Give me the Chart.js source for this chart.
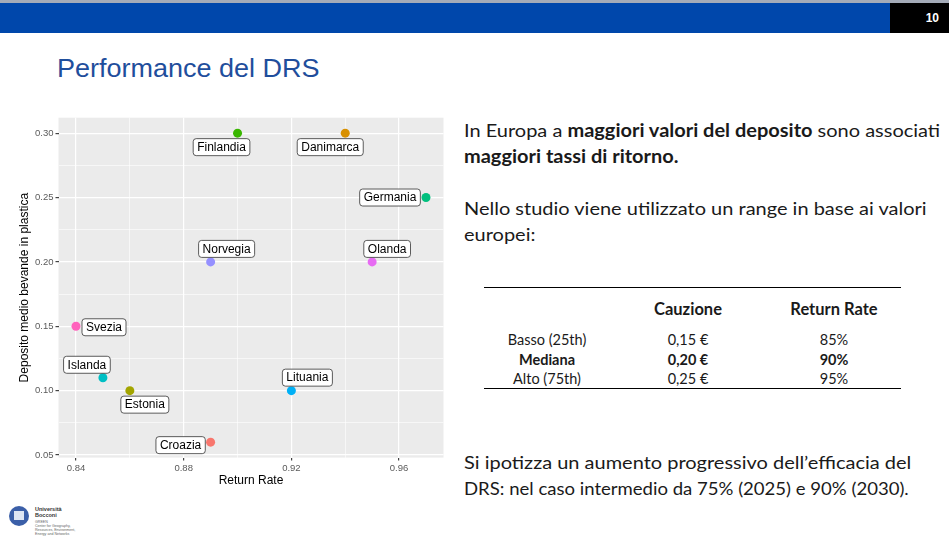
<!DOCTYPE html>
<html>
<head>
<meta charset="utf-8">
<script src="https://cdn.jsdelivr.net/npm/chart.js@4"></script>
<style>
  body { margin: 0; width: 949px; height: 546px; background: #fff; position: relative; overflow: hidden; font-family: "Liberation Sans", Arial, sans-serif; }
  .topline { position: absolute; left: 0; top: 0; width: 949px; height: 3px; background: #a4abb8; }
  .topbar { position: absolute; left: 0; top: 3px; width: 890px; height: 30px; background: #0047ab; }
  .pagenum { position: absolute; left: 890px; top: 3px; width: 59px; height: 30px; background: #000; color: #fff; font-size: 12px; font-weight: bold; line-height: 30px; text-align: right; box-sizing: border-box; padding-right: 10px; }
  .title { position: absolute; left: 57px; top: 54px; font-size: 25px; color: #1f4e9c; transform: scaleX(1.08); transform-origin: left top; }
  #wrap { position: absolute; left: 0; top: 110px; width: 455px; height: 390px; }
  .txt { position: absolute; left: 464px; font-family: Lato, "Open Sans", sans-serif; font-size: 18px; color: #1a1a1a; white-space: nowrap; transform: scaleX(1.11); transform-origin: left top; }
  .txt b { font-weight: bold; }
  .rule { position: absolute; left: 484px; width: 417px; height: 1px; background: #000; }
  .cell { position: absolute; font-family: Lato, "Open Sans", sans-serif; color: #1a1a1a; white-space: nowrap; transform: translateX(-50%); }
  .logo { position: absolute; left: 8px; top: 503px; }
</style>
</head>
<body>
<div class="topline"></div>
<div class="topbar"></div>
<div class="pagenum">10</div>
<div class="title">Performance del DRS</div>

<div id="wrap"><canvas id="chart" width="455" height="390"></canvas></div>

<div class="txt" style="top:119px">In Europa a <b>maggiori valori del deposito</b> sono associati</div>
<div class="txt" style="top:145px"><b>maggiori tassi di ritorno.</b></div>
<div class="txt" style="top:197px">Nello studio viene utilizzato un range in base ai valori</div>
<div class="txt" style="top:223px">europei:</div>

<div class="rule" style="top:287px"></div>
<div class="cell" style="left:688px;top:299px;font-size:16.5px;font-weight:bold">Cauzione</div>
<div class="cell" style="left:834px;top:299px;font-size:16.5px;font-weight:bold">Return Rate</div>
<div class="cell" style="left:547px;top:331px;font-size:14.5px">Basso (25th)</div>
<div class="cell" style="left:688px;top:331px;font-size:14.5px">0,15 €</div>
<div class="cell" style="left:834px;top:331px;font-size:14.5px">85%</div>
<div class="cell" style="left:547px;top:351px;font-size:14.5px;font-weight:bold">Mediana</div>
<div class="cell" style="left:688px;top:351px;font-size:14.5px;font-weight:bold">0,20 €</div>
<div class="cell" style="left:834px;top:351px;font-size:14.5px;font-weight:bold">90%</div>
<div class="cell" style="left:547px;top:370px;font-size:14.5px">Alto (75th)</div>
<div class="cell" style="left:688px;top:370px;font-size:14.5px">0,25 €</div>
<div class="cell" style="left:834px;top:370px;font-size:14.5px">95%</div>
<div class="rule" style="top:388px"></div>

<div class="txt" style="top:451px">Si ipotizza un aumento progressivo dell’efficacia del</div>
<div class="txt" style="top:477px;transform:scaleX(1.03)">DRS: nel caso intermedio da 75% (2025) e 90% (2030).</div>

<div class="logo">
  <svg width="100" height="36">
    <circle cx="11" cy="13" r="10" fill="#3b5fa8"/>
    <rect x="6" y="8" width="10" height="9" fill="#dfe6f3"/>
    <text x="27" y="8" font-size="5.5" font-weight="bold" fill="#333" font-family="Liberation Sans">Università</text>
    <text x="27" y="14" font-size="5.5" font-weight="bold" fill="#333" font-family="Liberation Sans">Bocconi</text>
    <text x="27" y="20" font-size="3.6" fill="#666" font-family="Liberation Sans">GREEN</text>
    <text x="27" y="24" font-size="3.6" fill="#666" font-family="Liberation Sans">Center for Geography,</text>
    <text x="27" y="28" font-size="3.6" fill="#666" font-family="Liberation Sans">Resources, Environment,</text>
    <text x="27" y="32" font-size="3.6" fill="#666" font-family="Liberation Sans">Energy and Networks</text>
  </svg>
</div>

<script>
// dati
const paesi = ['Croazia', 'Danimarca', 'Estonia', 'Finlandia', 'Germania', 'Islanda', 'Lituania', 'Norvegia', 'Olanda', 'Svezia'];
const returnRate = [0.89, 0.94, 0.86, 0.90, 0.97, 0.85, 0.92, 0.89, 0.95, 0.84];
const deposito = [0.06, 0.30, 0.10, 0.30, 0.25, 0.11, 0.10, 0.20, 0.20, 0.15];
const xTicks = [0.84, 0.88, 0.92, 0.96];
const yTicks = [0.05, 0.10, 0.15, 0.20, 0.25, 0.30];
const xMinor = [0.86, 0.90, 0.94];
const yMinor = [0.075, 0.125, 0.175, 0.225, 0.275];

// colori ggplot (hue_pal, 10 livelli)
const colori = ['#F8766D', '#D89000', '#A3A500', '#39B600', '#00BF7D', '#00BFC4', '#00B0F6', '#9590FF', '#E76BF3', '#FF62BC'];

// spostamento etichette rispetto al punto (px)
const spostamenti = {
  Croazia: [-30, 3], Danimarca: [-15, 14], Estonia: [15, 14], Finlandia: [-16, 14],
  Germania: [-36, 0], Islanda: [-16, -13], Lituania: [16, -13], Norvegia: [16, -13],
  Olanda: [15, -13], Svezia: [28, 1]
};

const isMinor = (v, list) => list.some(m => Math.abs(m - v) < 1e-6);
const fontAssi = '"Liberation Sans", Arial, sans-serif';

// sfondo grigio del pannello
const pannello = {
  id: 'pannello',
  beforeDraw(chart) {
    const a = chart.chartArea;
    const ctx = chart.ctx;
    ctx.save();
    ctx.fillStyle = '#EBEBEB';
    ctx.fillRect(a.left, a.top, a.right - a.left, a.bottom - a.top);
    ctx.restore();
  }
};

// etichette in stile geom_label
const etichette = {
  id: 'etichette',
  afterDatasetsDraw(chart) {
    const ctx = chart.ctx;
    const meta = chart.getDatasetMeta(0);
    ctx.save();
    ctx.font = '12px ' + fontAssi;
    ctx.textAlign = 'center';
    ctx.textBaseline = 'middle';
    meta.data.forEach((pt, i) => {
      const nome = paesi[i];
      const off = spostamenti[nome];
      const cx = pt.x + off[0];
      const cy = pt.y + off[1];
      const w = ctx.measureText(nome).width + 8;
      const h = 17;
      ctx.beginPath();
      ctx.roundRect(cx - w / 2, cy - h / 2, w, h, 3);
      ctx.fillStyle = '#fff';
      ctx.fill();
      ctx.lineWidth = 0.8;
      ctx.strokeStyle = '#333';
      ctx.stroke();
      ctx.fillStyle = '#000';
      ctx.fillText(nome, cx, cy + 0.5);
    });
    ctx.restore();
  }
};

const ctx = document.getElementById('chart').getContext('2d');
new Chart(ctx, {
  type: 'scatter',
  data: {
    datasets: [{
      data: paesi.map((p, i) => ({ x: returnRate[i], y: deposito[i] })),
      backgroundColor: colori,
      borderWidth: 0,
      pointRadius: 4.5
    }]
  },
  options: {
    responsive: false,
    animation: false,
    layout: { padding: { top: 7.5, right: 11.5, left: 17, bottom: 12.4 } },
    plugins: { legend: { display: false }, tooltip: { enabled: false } },
    scales: {
      x: {
        type: 'linear',
        min: 0.8335,
        max: 0.9765,
        afterBuildTicks: s => { s.ticks = xTicks.concat(xMinor).sort((a, b) => a - b).map(v => ({ value: v })); },
        afterFit: s => { s.height = 30; },
        border: { display: false },
        grid: {
          color: '#fff',
          lineWidth: c => isMinor(c.tick.value, xMinor) ? 0.6 : 1.2,
          tickColor: c => isMinor(c.tick.value, xMinor) ? 'rgba(0,0,0,0)' : '#444',
          tickLength: 3
        },
        ticks: {
          color: '#5a5a5a',
          font: { size: 9.5, family: fontAssi },
          padding: 2,
          maxRotation: 0,
          autoSkip: false,
          callback: v => isMinor(v, xMinor) ? '' : v.toFixed(2)
        },
        title: { display: true, text: 'Return Rate', color: '#000', font: { size: 12, family: fontAssi }, padding: { top: 1, bottom: 0 } }
      },
      y: {
        type: 'linear',
        min: 0.048,
        max: 0.312,
        afterBuildTicks: s => { s.ticks = yTicks.concat(yMinor).sort((a, b) => a - b).map(v => ({ value: v })); },
        afterFit: s => { s.width = 41.5; },
        border: { display: false },
        grid: {
          color: '#fff',
          lineWidth: c => isMinor(c.tick.value, yMinor) ? 0.6 : 1.2,
          tickColor: c => isMinor(c.tick.value, yMinor) ? 'rgba(0,0,0,0)' : '#444',
          tickLength: 3
        },
        ticks: {
          color: '#5a5a5a',
          font: { size: 9.5, family: fontAssi },
          padding: 2,
          autoSkip: false,
          callback: v => isMinor(v, yMinor) ? '' : v.toFixed(2)
        },
        title: { display: true, text: 'Deposito medio bevande in plastica', color: '#000', font: { size: 12, family: fontAssi }, padding: { top: 0, bottom: 0 } }
      }
    }
  },
  plugins: [pannello, etichette]
});
</script>
</body>
</html>
